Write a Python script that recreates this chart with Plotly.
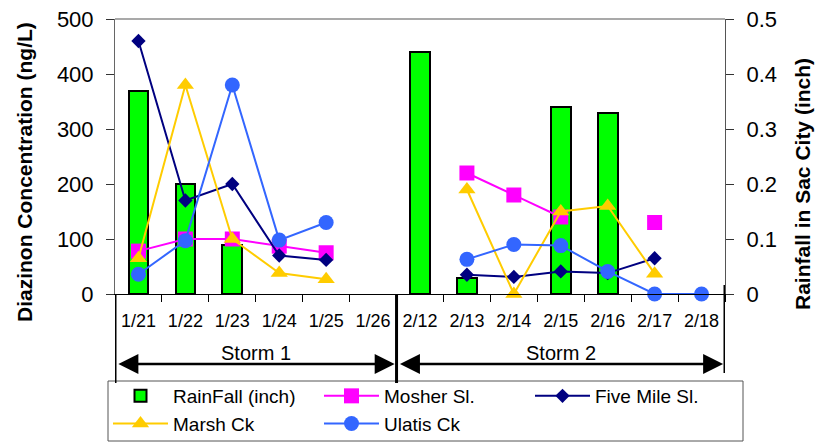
import plotly.graph_objects as go

categories = ['1/21', '1/22', '1/23', '1/24', '1/25', '1/26',
              '2/12', '2/13', '2/14', '2/15', '2/16', '2/17', '2/18']
rainfall = [0.37, 0.20, 0.09, 0, 0, 0, 0.44, 0.03, 0, 0.34, 0.33, 0, 0]
mosher = [78, 100, 100, 87, 75, None, None, 220, 180, 140, None, 130, None]
five_mile = [460, 170, 200, 70, 62, None, None, 35, 31, 41, 38, 65, None]
marsh = [65, 380, 100, 38, 27, None, None, 190, 0, 150, 160, 37, None]
ulatis = [36, 97, 380, 98, 130, None, None, 63, 90, 88, 41, 0, 0]
storms = ['Storm 1', 'Storm 2']
storm_bounds = [(-0.5, 5.5), (5.5, 12.5)]

FONT = "Liberation Sans"

fig = go.Figure()
fig.add_trace(go.Bar(x=categories, y=rainfall, name='RainFall (inch)',
                     marker=dict(color='#00FF00',
                                 line=dict(color='black',
                                           width=[2 if v > 0 else 0 for v in rainfall])),
                     width=0.42, yaxis='y'))

series = [
    ('Mosher Sl.', mosher, '#FF00FF', 'square', 15),
    ('Five Mile Sl.', five_mile, '#000080', 'diamond', 11),
    ('Marsh Ck', marsh, '#FFCC00', 'triangle-up', 15),
    ('Ulatis Ck', ulatis, '#3366FF', 'circle', 15),
]
for name, vals, col, sym, sz in series:
    fig.add_trace(go.Scatter(x=categories, y=vals, name=name, mode='lines+markers',
                             line=dict(color=col, width=2),
                             marker=dict(symbol=sym, size=sz, color=col),
                             connectgaps=False, cliponaxis=False, yaxis='y2'))

PL, PW, PB, PH = 115, 610, 294, 275  # plot area in pixels (left, width, bottom, height)


def px(x):
    return (x - PL) / PW


def py(y):
    return (PB - y) / PH


fig.update_layout(
    width=817, height=442,
    margin=dict(l=115, r=92, t=19, b=148, autoexpand=False),
    paper_bgcolor='white', plot_bgcolor='white',
    font=dict(family=FONT, color='black'),
    showlegend=True,
    bargap=0,
    xaxis=dict(type='category', categoryorder='array', categoryarray=categories,
               showline=True, linecolor='black', linewidth=1,
               ticks='outside', tickson='boundaries', ticklen=7, tickcolor='black',
               tickfont=dict(size=18, family=FONT), showgrid=False, zeroline=False,
               ticklabelstandoff=10, range=[-0.5, 12.5]),
    yaxis=dict(side='right', range=[0, 0.5], tickvals=[0, 0.1, 0.2, 0.3, 0.4, 0.5],
               ticktext=['0', '0.1', '0.2', '0.3', '0.4', '0.5'],
               showline=True, linecolor='#555555', linewidth=1,
               ticks='outside', ticklen=8, tickcolor='#333333',
               tickfont=dict(size=22, family=FONT), showgrid=False, zeroline=False,
               ticklabelstandoff=8),
    yaxis2=dict(side='left', overlaying='y', anchor='x', range=[0, 500],
                tickvals=[0, 100, 200, 300, 400, 500],
                showline=True, linecolor='#666666', linewidth=1,
                ticks='outside', ticklen=8, tickcolor='#333333',
                tickfont=dict(size=22, family=FONT), showgrid=False, zeroline=False,
                ticklabelstandoff=8),
    legend=dict(orientation='h', x=px(108), xanchor='left', y=py(377), yanchor='top',
                font=dict(size=19, family=FONT), bgcolor='rgba(0,0,0,0)',
                borderwidth=0,
                entrywidth=141, entrywidthmode='pixels', traceorder='normal',
                itemwidth=55),
)

# legend frame
fig.add_shape(type='rect', xref='paper', yref='paper',
              x0=px(108), x1=px(743), y0=py(381), y1=py(441),
              line=dict(color='#555555', width=1), fillcolor='white', layer='below')

# top frame line
fig.add_shape(type='line', xref='paper', yref='paper', x0=0, x1=1, y0=1, y1=1,
              line=dict(color='#8c8c8c', width=1.5))

# storm separator lines
for xv, ybot, ytop in [(-0.5, py(383), 0), (5.5, py(383), 0), (12.5, py(373), py(285))]:
    fig.add_shape(type='line', xref='x', yref='paper', x0=xv, x1=xv, y0=ybot, y1=ytop,
                  line=dict(color='black', width=3))

# storm arrows and labels
for label, (a, b) in zip(storms, storm_bounds):
    fig.add_annotation(x=b - 0.04, y=py(364), xref='x', yref='paper',
                       ax=a + 0.04, ay=0, axref='x', ayref='pixel',
                       text='', showarrow=True, arrowhead=2, startarrowhead=2,
                       arrowside='end+start', arrowsize=1.6, startarrowsize=1.6,
                       arrowwidth=2.5, arrowcolor='black', standoff=0, startstandoff=0)
    fig.add_annotation(x=(a + b) / 2, y=py(353), xref='x', yref='paper',
                       text=label, showarrow=False, font=dict(size=20, family=FONT),
                       yanchor='middle')

# axis titles
fig.add_annotation(x=px(24), y=py(172), xref='paper', yref='paper',
                   xanchor='center', yanchor='middle',
                   text='<b>Diazinon Concentration (ng/L)</b>',
                   showarrow=False, textangle=-90, font=dict(size=21, family=FONT))
fig.add_annotation(x=px(802), y=py(184), xref='paper', yref='paper',
                   xanchor='center', yanchor='middle',
                   text='<b>Rainfall in Sac City (inch)</b>',
                   showarrow=False, textangle=-90, font=dict(size=21, family=FONT))

fig.write_html("out.html")
